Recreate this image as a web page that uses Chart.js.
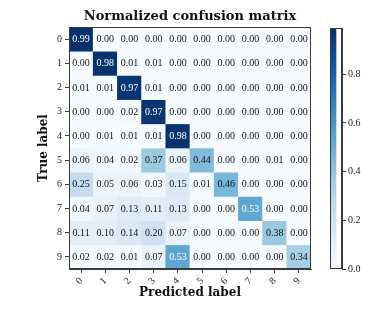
<!DOCTYPE html>
<html>
<head>
<meta charset="utf-8">
<script src="https://cdn.jsdelivr.net/npm/chart.js@4.4.1/dist/chart.umd.min.js"></script>
<style>
  html, body { margin: 0; padding: 0; background: #fff; }
  #wrap { position: relative; width: 385px; height: 314px; }
  #wrap canvas { position: absolute; left: 0; top: 0; }
</style>
</head>
<body>
<div id="wrap">
  <canvas id="matrix" width="385" height="314"></canvas>
  <canvas id="cbar" width="385" height="314"></canvas>
</div>
<script>
// class labels (same for true and predicted)
const classLabels = ['0', '1', '2', '3', '4', '5', '6', '7', '8', '9'];

// normalized confusion matrix, one array per true label
const row0 = [0.99, 0.00, 0.00, 0.00, 0.00, 0.00, 0.00, 0.00, 0.00, 0.00];
const row1 = [0.00, 0.98, 0.01, 0.01, 0.00, 0.00, 0.00, 0.00, 0.00, 0.00];
const row2 = [0.01, 0.01, 0.97, 0.01, 0.00, 0.00, 0.00, 0.00, 0.00, 0.00];
const row3 = [0.00, 0.00, 0.02, 0.97, 0.00, 0.00, 0.00, 0.00, 0.00, 0.00];
const row4 = [0.00, 0.01, 0.01, 0.01, 0.98, 0.00, 0.00, 0.00, 0.00, 0.00];
const row5 = [0.06, 0.04, 0.02, 0.37, 0.06, 0.44, 0.00, 0.00, 0.01, 0.00];
const row6 = [0.25, 0.05, 0.06, 0.03, 0.15, 0.01, 0.46, 0.00, 0.00, 0.00];
const row7 = [0.04, 0.07, 0.13, 0.11, 0.13, 0.00, 0.00, 0.53, 0.00, 0.00];
const row8 = [0.11, 0.10, 0.14, 0.20, 0.07, 0.00, 0.00, 0.00, 0.38, 0.00];
const row9 = [0.02, 0.02, 0.01, 0.07, 0.53, 0.00, 0.00, 0.00, 0.00, 0.34];
const matrix = [row0, row1, row2, row3, row4, row5, row6, row7, row8, row9];

const colorbarTicks = [0.0, 0.2, 0.4, 0.6, 0.8];

const vmax = Math.max(...matrix.flat());

// matplotlib "Blues"
const blues = ['#f7fbff', '#deebf7', '#c6dbef', '#9ecae1', '#6baed6', '#4292c6', '#2171b5', '#08519c', '#08306b'];

function hexToRgb(h) {
  return [parseInt(h.slice(1, 3), 16), parseInt(h.slice(3, 5), 16), parseInt(h.slice(5, 7), 16)];
}

function bluesColor(t) {
  t = Math.max(0, Math.min(1, t));
  const pos = t * (blues.length - 1);
  const i = Math.min(Math.floor(pos), blues.length - 2);
  const f = pos - i;
  const a = hexToRgb(blues[i]), b = hexToRgb(blues[i + 1]);
  const c = a.map((v, k) => Math.round(v + (b[k] - v) * f));
  return `rgb(${c[0]},${c[1]},${c[2]})`;
}

const serif = "'Liberation Serif', 'DejaVu Serif', serif";
const serifBold = "'DejaVu Serif', serif";
const frameColor = '#3a3a3a';

// draws the value in each cell and the axes frame
const cellText = {
  id: 'cellText',
  afterDatasetsDraw(chart) {
    const ctx = chart.ctx;
    const xs = chart.scales.x, ys = chart.scales.y;
    ctx.save();
    ctx.font = `10px ${serif}`;
    ctx.textAlign = 'center';
    ctx.textBaseline = 'middle';
    matrix.forEach((row, i) => {
      row.forEach((v, j) => {
        ctx.fillStyle = v > vmax / 2 ? '#ffffff' : '#111111';
        ctx.fillText(v.toFixed(2), xs.getPixelForValue(j), ys.getPixelForValue(i + 0.5) + 0.5);
      });
    });
    ctx.restore();
  },
  afterDraw(chart) {
    const a = chart.chartArea, ctx = chart.ctx;
    ctx.save();
    ctx.strokeStyle = frameColor;
    ctx.lineWidth = 1;
    ctx.strokeRect(a.left + 0.5, a.top + 0.5, a.right - a.left - 1, a.bottom - a.top - 1);
    ctx.restore();
  }
};

new Chart(document.getElementById('matrix'), {
  type: 'bar',
  data: {
    labels: classLabels,
    datasets: matrix.map((row, i) => ({
      label: classLabels[i],
      data: row.map(() => [i, i + 1]),
      backgroundColor: row.map(v => bluesColor(v / vmax)),
      borderWidth: 0,
      barPercentage: 1,
      categoryPercentage: 1,
      grouped: false
    }))
  },
  options: {
    responsive: false,
    animation: false,
    events: [],
    layout: { padding: { left: 33, right: 74, top: 0, bottom: 10 } },
    plugins: {
      legend: { display: false },
      tooltip: { enabled: false },
      title: {
        display: true,
        text: 'Normalized confusion matrix',
        fullSize: false,
        color: '#111',
        font: { family: serifBold, size: 13, weight: 'bold' },
        padding: { top: 9, bottom: 2.4 }
      }
    },
    scales: {
      x: {
        type: 'category',
        offset: true,
        grid: { offset: false, drawOnChartArea: false, tickLength: 4, color: frameColor },
        border: { color: frameColor },
        ticks: { color: '#222', font: { family: serif, size: 10 }, minRotation: 45, maxRotation: 45, padding: 2 },
        title: {
          display: true,
          text: 'Predicted label',
          color: '#111',
          font: { family: serifBold, size: 12, weight: 'bold' },
          padding: { top: 0, bottom: 4 }
        },
        afterFit(scale) { scale.height = 35; }
      },
      y: {
        type: 'linear',
        min: 0,
        max: 10,
        reverse: true,
        afterBuildTicks(scale) {
          scale.ticks = classLabels.map((_, i) => ({ value: i + 0.5 }));
        },
        grid: { drawOnChartArea: false, tickLength: 4, color: frameColor },
        border: { color: frameColor },
        ticks: {
          color: '#222',
          font: { family: serif, size: 10 },
          padding: 3,
          callback: v => classLabels[Math.floor(v)]
        },
        title: {
          display: true,
          text: 'True label',
          color: '#111',
          font: { family: serifBold, size: 12, weight: 'bold' },
          padding: { top: 4, bottom: 0 }
        },
        afterFit(scale) { scale.width = 36; }
      }
    }
  },
  plugins: [cellText]
});

// colorbar
const cbarFrame = {
  id: 'cbarFrame',
  afterDraw(chart) {
    const a = chart.chartArea, ctx = chart.ctx;
    ctx.save();
    ctx.strokeStyle = frameColor;
    ctx.lineWidth = 1;
    ctx.strokeRect(a.left + 0.5, a.top + 0.5, a.right - a.left - 1, a.bottom - a.top - 1);
    ctx.restore();
  }
};

new Chart(document.getElementById('cbar'), {
  type: 'bar',
  data: {
    labels: [''],
    datasets: [{
      data: [[0, vmax]],
      borderWidth: 0,
      barPercentage: 1,
      categoryPercentage: 1,
      backgroundColor(c) {
        const chart = c.chart;
        const area = chart.chartArea;
        if (!area) return blues[4];
        const ys = chart.scales.y;
        const g = chart.ctx.createLinearGradient(0, ys.getPixelForValue(0), 0, ys.getPixelForValue(vmax));
        blues.forEach((col, k) => g.addColorStop(k / (blues.length - 1), col));
        return g;
      }
    }]
  },
  options: {
    responsive: false,
    animation: false,
    events: [],
    layout: { padding: { left: 330, right: 0, top: 28, bottom: 45 } },
    plugins: { legend: { display: false }, tooltip: { enabled: false } },
    scales: {
      x: { display: false, offset: false },
      y: {
        position: 'right',
        min: 0,
        max: vmax,
        afterBuildTicks(scale) {
          scale.ticks = colorbarTicks.map(v => ({ value: v }));
        },
        grid: { drawOnChartArea: false, tickLength: 4, color: frameColor },
        border: { color: frameColor },
        ticks: { color: '#222', font: { family: serif, size: 10 }, padding: 2, callback: v => v.toFixed(1) },
        afterFit(scale) { scale.width = 43; }
      }
    }
  },
  plugins: [cbarFrame]
});
</script>
</body>
</html>
